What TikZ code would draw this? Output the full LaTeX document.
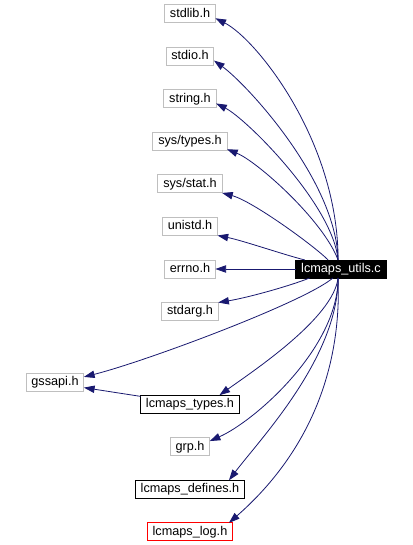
\documentclass[tikz,border=0pt]{standalone}
\usepackage{fontspec}
\setmainfont{Liberation Sans}
\usepackage{xcolor}
\usepackage{tikz}
\usetikzlibrary{positioning, arrows.meta, calc}

\definecolor{edgeblue}{HTML}{191970}
\definecolor{boxgray}{HTML}{BFBFBF}

\begin{document}
\begin{tikzpicture}[
  x=0.75pt, y=-0.75pt,
  node distance=18.4pt,
  every node/.style={font=\fontsize{9.5}{11}\selectfont},
  hdr/.style={draw=boxgray, line width=0.75pt, outer sep=0pt, minimum height=13.5pt, inner xsep=4pt, inner ysep=0pt, text height=7pt, text depth=2pt},
  doc/.style={hdr, draw=black},
  logbox/.style={hdr, draw=red},
  src/.style={hdr, draw=black, fill=black, text=white},
  dep/.style={draw=edgeblue, line width=0.6pt, -{Triangle[length=8pt, width=5.5pt]}, edgeblue},
]
\fill[white] (0,0) rectangle (412,545);
\useasboundingbox (0,0) rectangle (412,545);

% the file itself
\node[src] (utils) at (341,269) {lcmaps\_utils.c};

% system headers (column)
\node[hdr] (errno) at (190,269) {errno.h};
\node[hdr, above=of errno] (unistd) {unistd.h};
\node[hdr, above=of unistd] (sysstat) {sys/stat.h};
\node[hdr, above=of sysstat] (systypes) {sys/types.h};
\node[hdr, above=of systypes] (string) {string.h};
\node[hdr, above=of string] (stdio) {stdio.h};
\node[hdr, above=of stdio] (stdlib) {stdlib.h};
\node[hdr, below=of errno] (stdarg) {stdarg.h};

% lcmaps headers
\node[doc, below=56pt of stdarg] (types) {lcmaps\_types.h};
\node[hdr, below=of types] (grp) {grp.h};
\node[doc, below=of grp] (defines) {lcmaps\_defines.h};
\node[logbox, below=of defines] (log) {lcmaps\_log.h};
\node[hdr] (gssapi) at (55,382) {gssapi.h};

% includes
\draw[dep] (utils.108) .. controls +(0,-120) and +(40,20) .. (stdlib.-10);
\draw[dep] (utils.108) .. controls +(-2,-80) and +(32,23) .. (stdio.-10);
\draw[dep] (utils.108) .. controls +(-5,-55) and +(30,15) .. (string.-10);
\draw[dep] (utils.108) .. controls +(-15,-40) and +(30,12) .. (systypes.-12);
\draw[dep] (utils.145) .. controls +(-15,-15) and +(30,8) .. (sysstat.south east);
\draw[dep] (utils.166) .. controls +(-20,-5) and +(25,5) .. (unistd.south east);
\draw[dep] (utils) -- (errno);
\draw[dep] (utils.196) .. controls +(-20,8) and +(30,-5) .. (stdarg.north east);
\draw[dep] (utils.228) .. controls +(-30,25) and +(60,-15) .. (gssapi.10);
\draw[dep] (utils.252) .. controls +(-5,40) and +(35,-25) .. (types.17);
\draw[dep] (utils.252) .. controls +(0,70) and +(45,-20) .. (grp.16);
\draw[dep] (utils.252) .. controls +(0,80) and +(30,-40) .. (defines.13);
\draw[dep] (utils.252) .. controls +(4,102) and +(72,-63) .. (log.13);
\draw[dep] (types.171) -- (gssapi.-11);
\end{tikzpicture}
\end{document}
